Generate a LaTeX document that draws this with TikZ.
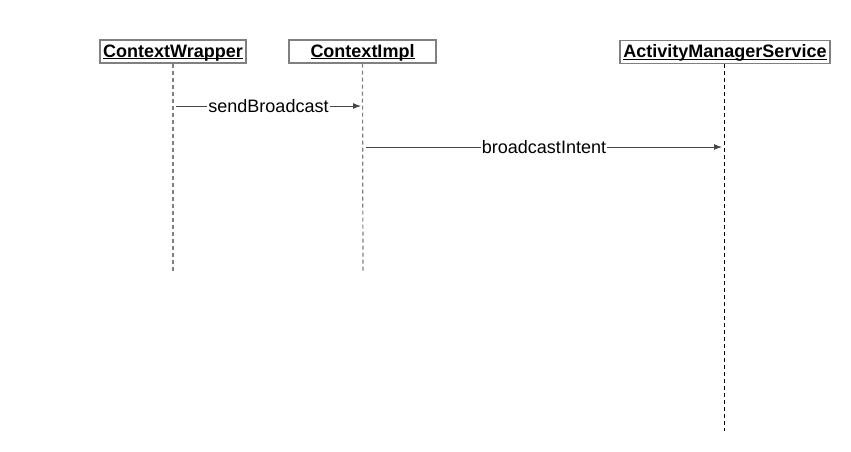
\documentclass[tikz,border=0pt]{standalone}
\usepackage{fontspec}
\setmainfont{Liberation Sans}
\tikzset{>=latex}
\usetikzlibrary{positioning,arrows.meta}
\colorlet{boxColor}{black!50}
\colorlet{lineColor}{black!72}
\newcommand{\diagfont}{\fontsize{18}{21}\selectfont}
\newcommand{\objname}[1]{\setbox0\hbox{#1}\rlap{\rule[-2.4pt]{\wd0}{1.1pt}}\box0}
\tikzset{objbox/.style={draw=boxColor,line width=1.2pt,fill=white,inner sep=0pt,minimum height=23pt,text height=14.5pt,text depth=3.5pt,font=\diagfont\bfseries},
	lifeline/.style={boxColor,dashed,line width=1.2pt,dash pattern=on 4pt off 3pt},
	msg/.style={lineColor,line width=1pt,-{Latex[length=8pt,width=6pt]}},
	msglabel/.style={fill=white,text=black,inner sep=1pt}}

\begin{document}
\begin{tikzpicture}[x=1pt,y=-1pt,font=\diagfont]
				\useasboundingbox (0,0) rectangle (851,451);
				\node[objbox,minimum width=146pt] (cw) at (173,51.5) {\objname{ContextWrapper}};
				\node[objbox,minimum width=147pt] (ci) at (362.5,51.5) {\objname{ContextImpl}};
				\node[objbox,minimum width=210pt] (ams) at (725,52) {\objname{ActivityManagerService}};
				\coordinate (cwEnd) at (173,272);
				\coordinate (ciEnd) at (363,272);
				\coordinate (amsEnd) at (724,431);
				\draw[lifeline] (cw.south) -- (cwEnd);
				\draw[lifeline] (ci.south) -- (ciEnd);
				\draw[lifeline,black,line width=1pt] (ams.south -| amsEnd) -- (amsEnd);
				% messages
				\coordinate (m1a) at (176,106);
				\coordinate (m1b) at (361,106);
				\coordinate (m2a) at (366,147);
				\coordinate (m2b) at (722,147);
				\draw[msg] (m1a) -- node[msglabel] {sendBroadcast} (m1b);
				\draw[msg] (m2a) -- node[msglabel] {broadcastIntent} (m2b);
				\end{tikzpicture}
\end{document}
